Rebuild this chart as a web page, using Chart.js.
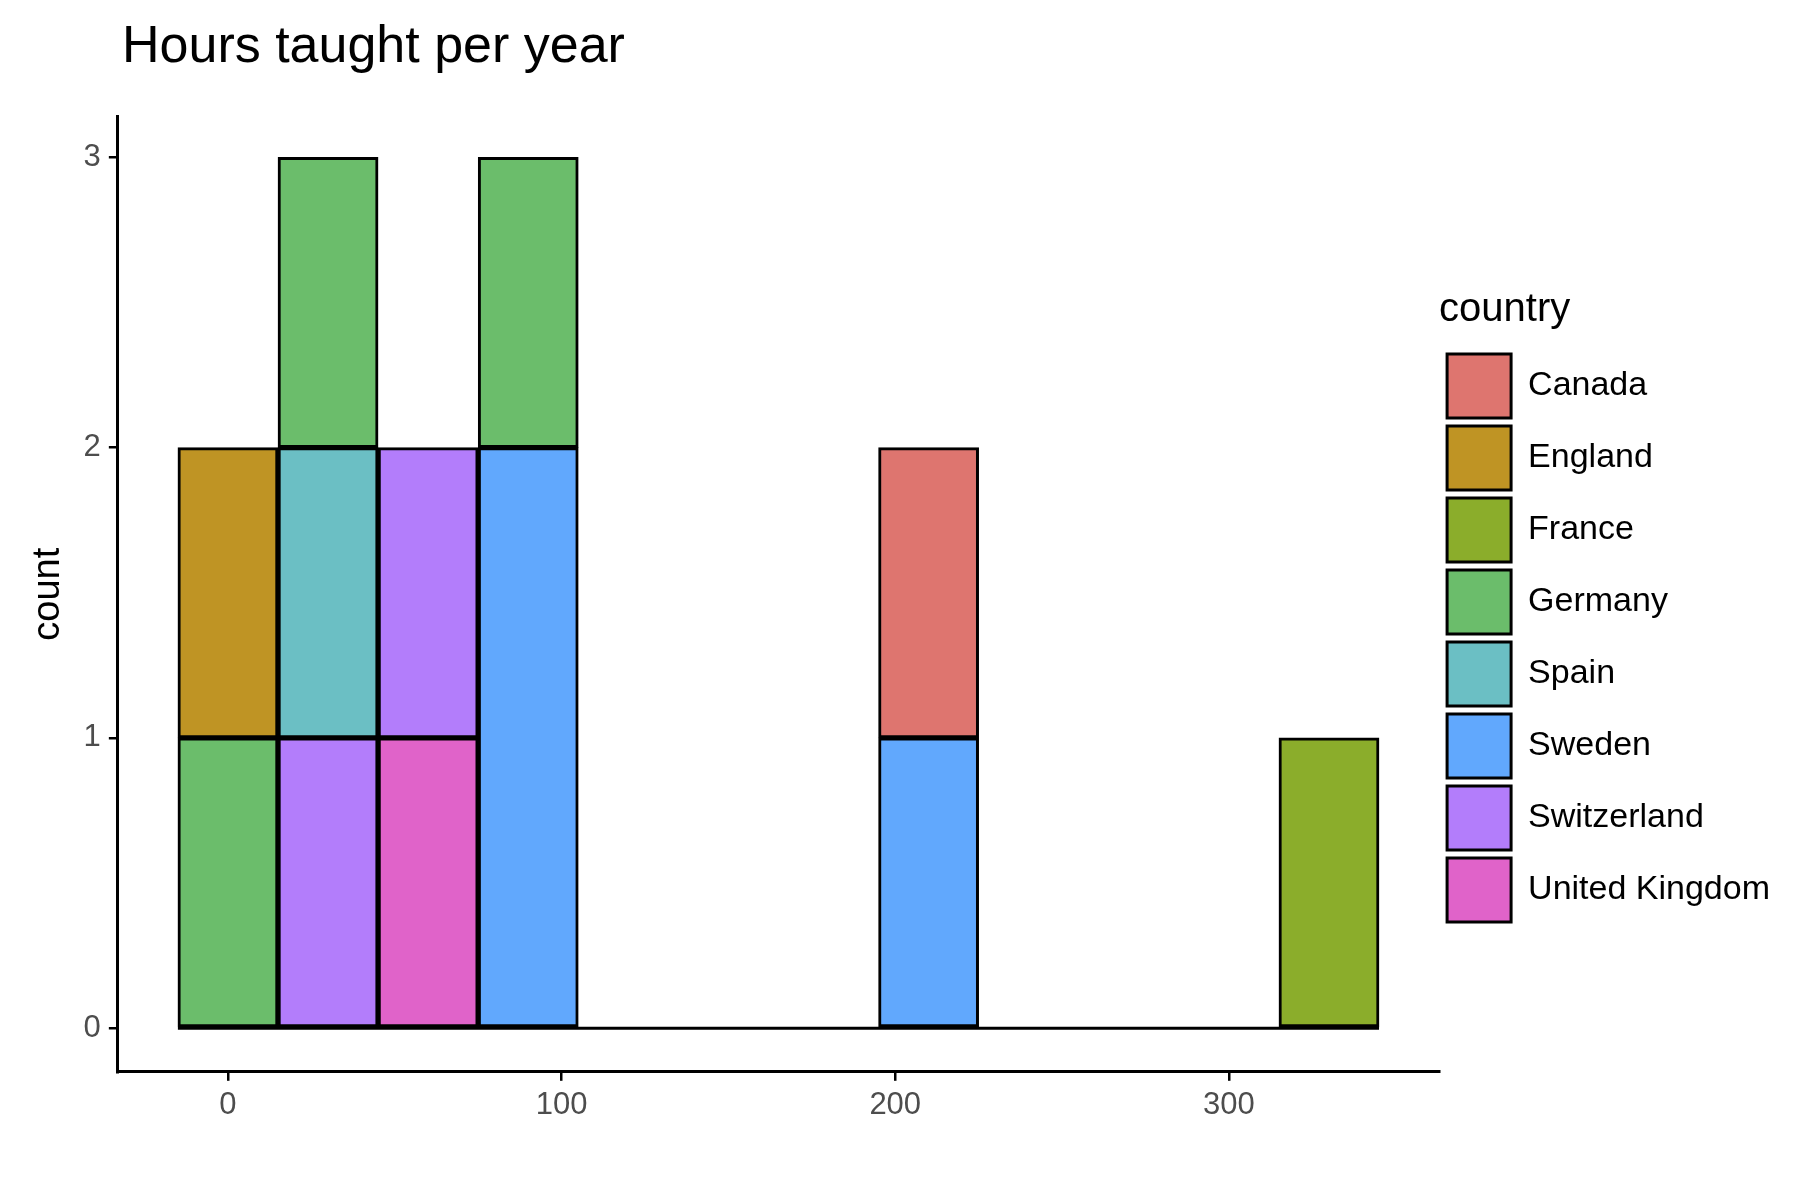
<!DOCTYPE html>
<html>
<head>
<meta charset="utf-8">
<script src="https://cdn.jsdelivr.net/npm/chart.js@4"></script>
<style>
  body { margin: 0; background: #fff; }
  #wrap { position: relative; width: 1800px; height: 1200px; }
  #title { position: absolute; left: 122px; top: 14px; font: 52px 'Liberation Sans', Arial, sans-serif; color: #000; }
  #box { position: absolute; left: 0; top: 90px; width: 1800px; height: 1110px; }
</style>
</head>
<body>
<div id="wrap">
  <div id="title">Hours taught per year</div>
  <div id="box"><canvas id="histChart"></canvas></div>
</div>
<script>
// bin centres (bin width 30)
const binCenters = [0, 30, 60, 90, 120, 150, 180, 210, 240, 270, 300, 330];

// counts per bin, listed bottom of stack first
const unitedKingdom = [0, 0, 1, 0, 0, 0, 0, 0, 0, 0, 0, 0];
const switzerland   = [0, 1, 1, 0, 0, 0, 0, 0, 0, 0, 0, 0];
const sweden        = [0, 0, 0, 2, 0, 0, 0, 1, 0, 0, 0, 0];
const spain         = [0, 1, 0, 0, 0, 0, 0, 0, 0, 0, 0, 0];
const germany       = [1, 1, 0, 1, 0, 0, 0, 0, 0, 0, 0, 0];
const france        = [0, 0, 0, 0, 0, 0, 0, 0, 0, 0, 0, 1];
const england       = [1, 0, 0, 0, 0, 0, 0, 0, 0, 0, 0, 0];
const canada        = [0, 0, 0, 0, 0, 0, 0, 1, 0, 0, 0, 0];

const xTicks = [0, 100, 200, 300];
const yTicks = [0, 1, 2, 3];

const series = [
    { label: 'United Kingdom', data: unitedKingdom, color: '#E063C9' },
    { label: 'Switzerland', data: switzerland, color: '#B37DFB' },
    { label: 'Sweden', data: sweden, color: '#61A8FD' },
    { label: 'Spain', data: spain, color: '#6BBFC4' },
    { label: 'Germany', data: germany, color: '#6BBD6B' },
    { label: 'France', data: france, color: '#8BAD2B' },
    { label: 'England', data: england, color: '#BF9424' },
    { label: 'Canada', data: canada, color: '#DE756F' }
];

const datasets = series.map(function (s) {
    return {
        type: 'bar',
        label: s.label,
        data: binCenters.map(function (x, i) { return { x: x, y: s.data[i] }; }),
        backgroundColor: s.color,
        borderColor: '#000',
        borderWidth: 3,
        borderSkipped: false,
        barPercentage: 1,
        categoryPercentage: 1,
        stack: 'hist'
    };
});

// baseline of the empty bins
datasets.push({
    type: 'line',
    label: '_baseline',
    data: [{ x: binCenters[0] - 15, y: 0 }, { x: binCenters[binCenters.length - 1] + 15, y: 0 }],
    borderColor: '#000',
    borderWidth: 3,
    pointRadius: 0,
    stack: 'line',
    order: -1
});

const tickFont = { family: 'Liberation Sans, Arial', size: 31 };

new Chart(document.getElementById('histChart'), {
    data: { datasets: datasets },
    options: {
        responsive: true,
        maintainAspectRatio: false,
        animation: false,
        layout: { padding: { left: 22, right: 20, top: 0, bottom: 70 } },
        scales: {
            x: {
                type: 'linear',
                stacked: true,
                offset: false,
                min: -33,
                max: 363,
                afterBuildTicks: function (axis) { axis.ticks = xTicks.map(function (v) { return { value: v }; }); },
                grid: { offset: false, drawOnChartArea: false, drawTicks: true, tickLength: 9, color: '#000', lineWidth: 2.5 },
                border: { display: true, color: '#000', width: 3 },
                ticks: { color: '#4d4d4d', font: tickFont, padding: 6 }
            },
            y: {
                stacked: true,
                min: -0.15,
                max: 3.14,
                afterBuildTicks: function (axis) { axis.ticks = yTicks.map(function (v) { return { value: v }; }); },
                grid: { drawOnChartArea: false, drawTicks: true, tickLength: 9, color: '#000', lineWidth: 2.5 },
                border: { display: true, color: '#000', width: 3 },
                ticks: { color: '#4d4d4d', font: tickFont, padding: 8 },
                title: { display: true, text: 'count', color: '#000', font: { family: 'Liberation Sans, Arial', size: 38 } }
            }
        },
        plugins: {
            tooltip: { enabled: false },
            legend: {
                position: 'right',
                align: 'center',
                title: {
                    display: true,
                    text: 'country',
                    color: '#000',
                    position: 'start',
                    font: { family: 'Liberation Sans, Arial', size: 40 },
                    padding: { top: 0, bottom: 8 }
                },
                labels: {
                    boxWidth: 64,
                    boxHeight: 64,
                    padding: 8,
                    color: '#000',
                    font: { family: 'Liberation Sans, Arial', size: 34 },
                    filter: function (item) { return item.text !== '_baseline'; },
                    sort: function (a, b) { return b.datasetIndex - a.datasetIndex; }
                }
            }
        }
    }
});
</script>
</body>
</html>
